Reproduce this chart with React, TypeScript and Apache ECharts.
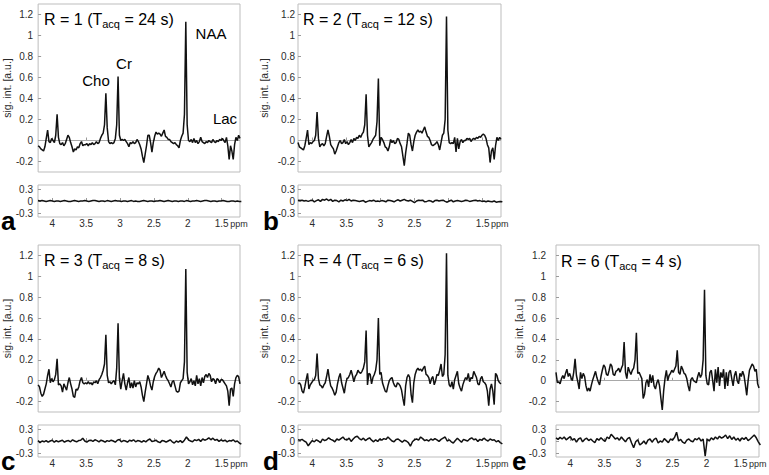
import React, { useEffect, useRef } from "react";
import * as echarts from "echarts";

// chemical-shift sampling grid of the spectra (ppm)
const PPM = [
  4.21, 4.19, 4.17, 4.15, 4.13, 4.11, 4.09, 4.07, 4.05, 4.03,
  4.01, 3.99, 3.97, 3.95, 3.93, 3.91, 3.89, 3.87, 3.85, 3.83,
  3.81, 3.79, 3.77, 3.75, 3.73, 3.71, 3.69, 3.67, 3.65, 3.63,
  3.61, 3.59, 3.57, 3.55, 3.53, 3.51, 3.49, 3.47, 3.45, 3.43,
  3.41, 3.39, 3.37, 3.35, 3.33, 3.31, 3.29, 3.27, 3.25, 3.23,
  3.21, 3.19, 3.17, 3.15, 3.13, 3.11, 3.09, 3.07, 3.05, 3.03,
  3.01, 2.99, 2.97, 2.95, 2.93, 2.91, 2.89, 2.87, 2.85, 2.83,
  2.81, 2.79, 2.77, 2.75, 2.73, 2.71, 2.69, 2.67, 2.65, 2.63,
  2.61, 2.59, 2.57, 2.55, 2.53, 2.51, 2.49, 2.47, 2.45, 2.43,
  2.41, 2.39, 2.37, 2.35, 2.33, 2.31, 2.29, 2.27, 2.25, 2.23,
  2.21, 2.19, 2.17, 2.15, 2.13, 2.11, 2.09, 2.07, 2.05, 2.03,
  2.01, 1.99, 1.97, 1.95, 1.93, 1.91, 1.89, 1.87, 1.85, 1.83,
  1.81, 1.79, 1.77, 1.75, 1.73, 1.71, 1.69, 1.67, 1.65, 1.63,
  1.61, 1.59, 1.57, 1.55, 1.53, 1.51, 1.49, 1.47, 1.45, 1.43,
  1.41, 1.39, 1.37, 1.35, 1.33, 1.31, 1.29, 1.27, 1.25, 1.23,
];

// sampling grid of the residuals (ppm)
const RES_PPM = [
  4.21, 4.18, 4.15, 4.12, 4.09, 4.06, 4.03, 4.0, 3.97, 3.94,
  3.91, 3.88, 3.85, 3.82, 3.79, 3.76, 3.73, 3.7, 3.67, 3.64,
  3.61, 3.58, 3.55, 3.52, 3.49, 3.46, 3.43, 3.4, 3.37, 3.34,
  3.31, 3.28, 3.25, 3.22, 3.19, 3.16, 3.13, 3.1, 3.07, 3.04,
  3.01, 2.98, 2.95, 2.92, 2.89, 2.86, 2.83, 2.8, 2.77, 2.74,
  2.71, 2.68, 2.65, 2.62, 2.59, 2.56, 2.53, 2.5, 2.47, 2.44,
  2.41, 2.38, 2.35, 2.32, 2.29, 2.26, 2.23, 2.2, 2.17, 2.14,
  2.11, 2.08, 2.05, 2.02, 1.99, 1.96, 1.93, 1.9, 1.87, 1.84,
  1.81, 1.78, 1.75, 1.72, 1.69, 1.66, 1.63, 1.6, 1.57, 1.54,
  1.51, 1.48, 1.45, 1.42, 1.39, 1.36, 1.33, 1.3, 1.27, 1.24,
  1.21,
];

const X_TICKS = [4, 3.5, 3, 2.5, 2, 1.5];
const Y_TICKS = [-0.2, 0, 0.2, 0.4, 0.6, 0.8, 1, 1.2];
const RES_TICKS = [-0.3, 0, 0.3];

// spectra, signal intensity [a.u.]
const SPEC_A = [
  -0.05, -0.06, -0.08, -0.09, -0.1, -0.06, 0.02, 0.1, -0.01, -0.02,
  0.02, 0.0, -0.02, 0.05, 0.25, 0.03, -0.03, -0.04, -0.02, -0.05,
  -0.03, 0.01, 0.05, 0.03, -0.02, -0.06, -0.11, -0.08, -0.09, -0.06,
  -0.07, -0.03, -0.01, -0.05, -0.04, -0.04, -0.03, -0.05, -0.03, -0.04,
  -0.02, -0.04, -0.03, -0.01, -0.03, -0.02, 0.02, 0.05, 0.07, 0.15,
  0.45, 0.12, -0.01, -0.03, -0.02, -0.03, -0.02, 0.02, 0.15, 0.61,
  0.05, 0.0, 0.01, 0.0, 0.01, -0.01, -0.03, -0.06, -0.02, -0.03,
  -0.01, -0.03, -0.02, 0.01, -0.01, -0.04, -0.08, -0.15, -0.21, -0.13,
  -0.05, 0.05, 0.05, -0.02, -0.11, -0.02, 0.04, 0.08, 0.06, 0.07,
  0.06, 0.04, 0.07, 0.1, 0.04, 0.03, 0.01, 0.01, -0.01, -0.02,
  -0.03, -0.02, -0.04, -0.05, -0.07, 0.0, 0.04, 0.07, 0.25, 1.13,
  0.15, 0.0, -0.01, 0.01, -0.02, 0.02, -0.02, 0.0, -0.03, -0.01,
  0.03, -0.01, -0.02, -0.03, -0.01, -0.02, 0.0, -0.01, -0.02, 0.01,
  -0.01, -0.02, 0.0, -0.01, 0.01, 0.0, 0.02, 0.0, -0.02, 0.03,
  -0.05, -0.18, -0.05, -0.1, -0.18, -0.04, 0.03, 0.0, 0.05, 0.02,
];
const SPEC_B = [
  -0.02, -0.06, -0.07, -0.08, -0.09, -0.05, 0.02, 0.1, -0.04, -0.02,
  -0.03, -0.01, 0.0, 0.05, 0.27, 0.02, -0.06, -0.04, -0.03, -0.05,
  -0.03, 0.04, 0.1, 0.04, -0.04, -0.06, -0.08, -0.13, -0.1, -0.06,
  -0.02, 0.0, -0.03, -0.02, 0.01, -0.03, -0.01, -0.04, -0.02, 0.01,
  -0.02, 0.02, 0.0, 0.03, 0.02, 0.05, 0.03, 0.06, 0.08, 0.15,
  0.44, 0.05, -0.06, -0.04, -0.02, 0.01, 0.03, 0.05, 0.18, 0.59,
  -0.05, 0.03, 0.01, -0.02, -0.06, -0.07, -0.1, -0.06, 0.01, -0.02,
  0.0, -0.03, -0.02, 0.02, 0.01, -0.03, -0.06, -0.15, -0.24, -0.12,
  -0.03, 0.07, 0.05, -0.04, -0.1, -0.01, 0.05, 0.08, 0.1, 0.08,
  0.09, 0.07, 0.1, 0.13, 0.08, 0.04, 0.03, 0.0, -0.04, -0.05,
  -0.04, -0.03, -0.01, -0.04, -0.09, -0.02, 0.05, 0.07, 0.2, 1.18,
  0.1, -0.02, -0.03, -0.02, -0.03, 0.03, -0.11, 0.02, -0.08, -0.01,
  0.01, -0.02, 0.0, 0.0, 0.02, 0.01, 0.02, -0.01, 0.01, 0.02,
  0.01, 0.03, 0.02, 0.04, 0.03, 0.05, 0.06, 0.05, 0.02, -0.04,
  -0.07, -0.21, -0.1, -0.07, -0.18, -0.05, 0.03, 0.0, 0.03, 0.01,
];
const SPEC_C = [
  -0.04, -0.06, -0.12, -0.15, -0.13, -0.08, -0.03, 0.05, 0.11, -0.02,
  0.02, -0.01, 0.01, 0.06, 0.21, -0.04, -0.03, -0.05, -0.11, -0.03,
  -0.06, -0.09, -0.02, 0.03, -0.03, -0.08, -0.15, -0.16, -0.08, -0.09,
  -0.06, 0.0, 0.03, -0.02, -0.03, -0.02, -0.03, -0.01, -0.03, -0.02,
  -0.04, -0.01, -0.02, 0.0, -0.03, 0.01, 0.03, 0.06, 0.1, 0.16,
  0.44, 0.05, -0.02, -0.01, -0.03, -0.01, 0.0, -0.04, 0.12, 0.55,
  0.02, -0.08, 0.0, 0.07, -0.03, -0.09, -0.02, 0.03, -0.07, -0.02,
  -0.07, 0.0, -0.06, -0.02, -0.03, -0.01, -0.06, -0.14, -0.2, -0.11,
  -0.03, 0.05, 0.01, -0.05, -0.09, -0.01, 0.04, 0.07, 0.09, 0.12,
  0.1, 0.03, 0.06, 0.09, 0.05, 0.02, 0.0, -0.03, -0.06, -0.01,
  0.0, -0.05, -0.1, -0.11, -0.1, -0.02, 0.0, 0.02, 0.18, 1.07,
  0.08, -0.03, -0.01, 0.02, -0.04, 0.0, -0.05, 0.05, -0.03, 0.02,
  -0.05, 0.03, -0.02, 0.04, 0.06, 0.03, 0.07, 0.05, -0.01, 0.02,
  0.01, -0.03, 0.02, 0.01, -0.02, 0.01, 0.01, -0.01, -0.03, -0.05,
  -0.1, -0.24, -0.08, -0.07, -0.15, -0.03, 0.03, 0.05, 0.04, -0.03,
];
const SPEC_D = [
  -0.03, -0.02, -0.04, -0.1, -0.12, -0.06, 0.01, 0.07, -0.08, -0.04,
  -0.02, 0.0, 0.01, 0.05, 0.26, 0.02, -0.04, -0.05, -0.07, -0.04,
  -0.02, 0.04, 0.11, 0.02, -0.05, -0.07, -0.1, -0.14, -0.11, -0.03,
  0.03, 0.07, -0.02, -0.07, -0.12, -0.03, 0.02, 0.03, 0.06, 0.1,
  0.05, -0.01, 0.04, 0.06, 0.1, 0.08, 0.07, 0.09, 0.12, 0.18,
  0.48, -0.04, 0.07, 0.06, -0.03, 0.03, 0.06, 0.1, 0.2, 0.6,
  0.06, 0.08, -0.02, -0.06, -0.1, -0.11, -0.05, 0.0, 0.02, 0.03,
  -0.02, -0.05, -0.06, -0.02, -0.03, -0.05, -0.09, -0.17, -0.24, -0.05,
  0.03, 0.06, 0.03, -0.13, -0.21, -0.02, 0.06, 0.1, 0.12, 0.1,
  0.11, 0.09, 0.12, 0.14, 0.06, 0.05, 0.03, -0.03, 0.02, 0.04,
  -0.04, 0.0, 0.06, 0.05, 0.1, 0.16, 0.04, 0.06, 0.25, 1.22,
  0.05, -0.04, -0.06, -0.01, -0.08, 0.01, 0.05, 0.09, -0.03, -0.07,
  -0.1, -0.04, 0.0, 0.03, 0.01, 0.07, -0.01, 0.03, 0.02, 0.09,
  0.06, 0.03, -0.03, -0.04, 0.02, 0.04, -0.01, -0.02, -0.04, -0.1,
  -0.24, -0.08, -0.03, -0.1, -0.23, 0.07, 0.05, 0.0, -0.02, -0.03,
];
const SPEC_E = [
  0.08, -0.02, -0.01, -0.03, 0.02, 0.05, 0.02, 0.07, 0.11, 0.04,
  0.07, 0.03, 0.0, 0.08, 0.21, 0.05, -0.01, -0.08, 0.08, 0.02,
  0.07, 0.04, -0.05, -0.1, -0.07, -0.1, -0.04, 0.01, 0.05, 0.09,
  0.03, -0.01, -0.04, 0.04, 0.1, 0.15, 0.13, 0.06, 0.05, 0.1,
  0.16, 0.14, 0.06, 0.05, 0.09, 0.1, 0.12, 0.08, 0.12, 0.15,
  0.37, 0.08, 0.02, 0.13, 0.09, 0.06, 0.1, 0.12, 0.2, 0.46,
  0.07, 0.08, 0.05, 0.02, -0.17, -0.13, -0.02, 0.01, -0.06, 0.06,
  -0.02, 0.05, -0.05, -0.08, -0.02, 0.01, -0.05, -0.17, -0.28, -0.1,
  0.02, 0.1, 0.0, 0.05, 0.07, 0.1, 0.08, 0.11, 0.14, 0.29,
  0.08, 0.06, 0.14, 0.11, 0.07, 0.06, 0.02, -0.05, -0.1, 0.01,
  0.03, 0.0, -0.01, -0.02, 0.04, 0.08, 0.03, 0.06, 0.2, 0.87,
  0.05, -0.03, -0.04, 0.08, 0.1, 0.0, -0.1, 0.11, -0.02, 0.13,
  -0.05, 0.08, 0.03, 0.11, -0.08, 0.08, -0.05, 0.08, 0.1, 0.02,
  -0.05, 0.05, 0.09, 0.0, -0.03, 0.07, 0.04, 0.09, 0.05, -0.04,
  -0.14, 0.0, 0.1, 0.13, 0.16, 0.14, 0.09, 0.11, -0.03, -0.07,
];

// fit residuals
const RES_A = [
  0.01, 0.0, 0.01, 0.0, -0.01, 0.0, 0.01, 0.0, -0.01, 0.0,
  0.0, -0.01, 0.0, 0.01, 0.0, -0.01, -0.01, 0.0, 0.01, 0.0,
  -0.01, 0.0, 0.0, 0.01, 0.0, -0.01, 0.0, 0.01, 0.01, 0.0,
  -0.01, 0.0, 0.0, -0.01, 0.01, 0.0, -0.01, 0.0, 0.01, 0.0,
  0.0, -0.01, 0.0, 0.0, -0.01, 0.0, 0.01, -0.01, 0.0, -0.01,
  -0.01, 0.0, 0.01, 0.0, -0.01, 0.0, 0.0, -0.01, 0.0, 0.0,
  0.01, 0.0, -0.01, 0.0, 0.01, 0.0, -0.01, 0.0, 0.0, -0.01,
  0.0, 0.0, -0.01, 0.01, 0.0, -0.01, 0.0, 0.0, 0.01, 0.0,
  -0.01, 0.0, 0.01, 0.01, 0.0, -0.01, 0.0, 0.0, -0.01, 0.0,
  0.0, 0.01, 0.0, -0.01, -0.01, 0.0, 0.0, -0.01, 0.0, -0.01,
  -0.01,
];
const RES_B = [
  0.02, 0.01, 0.02, 0.0, 0.01, -0.01, 0.01, 0.02, -0.02, 0.01,
  0.03, -0.01, 0.04, 0.02, 0.05, 0.01, 0.04, -0.01, 0.02, 0.01,
  -0.02, 0.02, 0.0, 0.03, 0.01, 0.04, 0.0, 0.02, 0.01, 0.0,
  -0.01, 0.0, 0.01, -0.03, -0.01, 0.01, 0.0, 0.02, -0.01, 0.0,
  -0.01, 0.01, 0.0, -0.02, 0.02, 0.01, 0.0, -0.02, 0.01, 0.03,
  0.0, 0.02, 0.04, 0.01, 0.0, 0.02, -0.01, -0.04, 0.0, 0.02,
  0.01, 0.02, -0.02, -0.01, 0.01, 0.0, -0.03, 0.01, 0.02, 0.0,
  0.01, 0.02, -0.01, -0.03, 0.0, 0.02, -0.02, 0.0, 0.01, 0.0,
  -0.01, 0.0, 0.02, 0.01, -0.01, 0.0, 0.01, 0.02, 0.0, 0.01,
  -0.01, 0.0, -0.02, 0.0, -0.01, -0.02, 0.0, -0.03, -0.02, -0.01,
  -0.02,
];
const RES_C = [
  0.01, -0.04, 0.0, -0.02, 0.01, -0.03, 0.0, 0.02, -0.03, 0.01,
  -0.02, 0.0, 0.02, -0.03, 0.0, 0.01, -0.02, 0.03, 0.0, -0.02,
  0.01, 0.02, 0.07, 0.0, -0.03, 0.01, 0.02, -0.01, 0.03, 0.01,
  -0.02, 0.02, 0.0, -0.03, 0.01, -0.01, 0.02, 0.0, -0.03, 0.02,
  0.04, -0.02, 0.01, 0.0, -0.03, 0.02, 0.0, 0.03, -0.02, 0.01,
  0.0, -0.03, 0.01, -0.02, 0.02, 0.05, -0.01, 0.0, 0.02, -0.02,
  -0.04, 0.01, 0.0, -0.03, 0.0, 0.03, -0.02, -0.05, 0.0, -0.03,
  0.01, -0.04, 0.02, 0.1, 0.03, 0.0, -0.02, 0.03, 0.01, 0.04,
  -0.01, 0.05, 0.02, 0.04, 0.08, 0.03, 0.07, 0.02, 0.04, -0.01,
  0.03, 0.0, 0.02, -0.02, 0.01, 0.0, 0.03, -0.02, 0.0, -0.05,
  -0.08,
];
const RES_D = [
  0.03, 0.02, 0.04, 0.0, -0.03, -0.12, -0.05, 0.01, -0.02, 0.03,
  0.0, -0.04, 0.05, 0.01, 0.03, 0.08, 0.04, 0.02, -0.02, 0.05,
  0.02, 0.06, 0.1, 0.04, 0.03, 0.07, -0.01, 0.05, 0.1, 0.12,
  0.06, 0.03, 0.07, 0.01, 0.05, 0.08, 0.02, -0.02, 0.03, -0.01,
  0.05, 0.02, 0.06, 0.04, 0.1, 0.05, 0.0, -0.02, 0.04, 0.05,
  0.01, -0.03, 0.02, 0.0, -0.04, -0.13, -0.02, 0.03, 0.05, 0.02,
  0.1, 0.06, 0.01, 0.03, 0.0, 0.05, 0.02, 0.06, 0.03, -0.01,
  0.04, 0.07, 0.1, 0.0, 0.03, -0.02, -0.05, 0.01, 0.07, 0.02,
  -0.03, 0.04, 0.02, 0.0, 0.05, 0.08, 0.03, 0.05, -0.01, 0.04,
  0.02, 0.07, 0.03, 0.0, 0.05, 0.02, 0.03, -0.02, 0.01, -0.04,
  -0.07,
];
const RES_E = [
  0.08, 0.04, 0.09, 0.05, 0.1, 0.03, 0.07, 0.11, 0.02, 0.06,
  -0.03, 0.05, 0.08, -0.02, 0.04, 0.07, 0.01, 0.05, 0.0, -0.04,
  0.06, 0.02, 0.08, 0.03, -0.01, 0.1, 0.06, 0.17, 0.11, 0.05,
  0.08, 0.02, 0.1, 0.04, -0.02, 0.06, 0.09, -0.05, -0.17, -0.02,
  0.03, -0.1, -0.06, 0.0, -0.08, 0.02, 0.05, -0.03, 0.04, 0.07,
  -0.05, 0.0, -0.03, 0.06, 0.01, -0.04, 0.05, 0.02, 0.09, 0.22,
  0.0, 0.04, -0.03, -0.06, 0.02, 0.05, 0.0, -0.02, 0.06, 0.03,
  0.08, 0.0, 0.05, -0.38, 0.05, 0.0, 0.08, 0.03, 0.1, 0.05,
  0.12, 0.07, 0.1, 0.15, 0.06, 0.13, 0.04, 0.1, 0.02, 0.07,
  0.0, 0.08, 0.04, 0.09, 0.01, 0.05, 0.1, 0.15, 0.08, -0.02,
  -0.1,
];

const R_FACTORS = ["1", "2", "3", "4", "6"];
const T_ACQ = ["24", "12", "8", "6", "4"];
const LETTERS = ["a", "b", "c", "d", "e"];
const SPECTRA = [SPEC_A, SPEC_B, SPEC_C, SPEC_D, SPEC_E];
const RESIDUALS = [RES_A, RES_B, RES_C, RES_D, RES_E];
const PEAK_NAMES = ["Cho", "Cr", "NAA", "Lac"];

const X_MIN = 1.23;
const X_MAX = 4.21;

// layout (pixels)
const LAYOUT = [
  { left: 38, width: 202, top: 4, h: 168, rTop: 185, rH: 32, yMargin: 5, nameGap: 20, titleX: 44, titleBase: 25, letterX: 1, letterBase: 230 },
  { left: 298, width: 203, top: 4, h: 168, rTop: 185, rH: 32, yMargin: 3, nameGap: 29, titleX: 303, titleBase: 25, letterX: 263, letterBase: 230 },
  { left: 38, width: 202, top: 245, h: 167, rTop: 425, rH: 32, yMargin: 5, nameGap: 20, titleX: 44, titleBase: 266, letterX: 1, letterBase: 470 },
  { left: 298, width: 203, top: 245, h: 167, rTop: 425, rH: 32, yMargin: 3, nameGap: 29, titleX: 303, titleBase: 266, letterX: 263, letterBase: 470 },
  { left: 556, width: 203, top: 245, h: 167, rTop: 425, rH: 32, yMargin: 10, nameGap: 21, titleX: 561, titleBase: 267, letterX: 512, letterBase: 470 },
];
const PEAK_POS = [
  [96, 80],
  [124, 63],
  [211, 33],
  [225, 118],
];

const FONT = "'Liberation Sans', Arial, Helvetica, sans-serif";
const BOX = "#bdbdbd";
const TICK = "#9a9a9a";
const TXT = "#2b2b2b";
const LETTER_SIZE = 26;

export default function App() {
  const ref = useRef<HTMLDivElement>(null);

  useEffect(() => {
    if (!ref.current) return;
    const chart = echarts.init(ref.current, null, { renderer: "svg" });

    const grid: any[] = [];
    const xAxis: any[] = [];
    const yAxis: any[] = [];
    const series: any[] = [];
    const graphic: any[] = [];
    const fmt = (v: number) => String(v);

    LAYOUT.forEach((L, k) => {
      const mi = 2 * k;
      const ri = 2 * k + 1;
      grid.push({ left: L.left, top: L.top, width: L.width, height: L.h, show: true, borderColor: BOX, borderWidth: 1, backgroundColor: "transparent" });
      grid.push({ left: L.left, top: L.rTop, width: L.width, height: L.rH, show: true, borderColor: BOX, borderWidth: 1, backgroundColor: "transparent" });

      const xBase = {
        type: "value",
        min: X_MIN,
        max: X_MAX,
        inverse: true,
        axisLine: { show: false },
        splitLine: { show: false },
        axisTick: { show: true, inside: true, length: 3, customValues: X_TICKS, lineStyle: { color: TICK } },
      };
      xAxis.push({ ...xBase, gridIndex: mi, axisLabel: { show: false } });
      xAxis.push({
        ...xBase,
        gridIndex: ri,
        axisLabel: { show: true, customValues: X_TICKS, margin: 1, fontSize: 10, lineHeight: 10, color: TXT, fontFamily: FONT, formatter: fmt },
      });

      yAxis.push({
        type: "value",
        gridIndex: mi,
        min: -0.3,
        max: 1.3,
        axisLine: { show: false },
        splitLine: { show: false },
        axisTick: { show: true, inside: true, length: 3, customValues: Y_TICKS, lineStyle: { color: TICK } },
        axisLabel: { show: true, customValues: Y_TICKS, margin: L.yMargin, fontSize: 10, color: TXT, fontFamily: FONT, formatter: fmt },
        name: "sig. int. [a.u.]",
        nameLocation: "middle",
        nameRotate: 90,
        nameGap: L.nameGap,
        nameTextStyle: { fontSize: 10.5, color: TXT, fontFamily: FONT },
      });
      yAxis.push({
        type: "value",
        gridIndex: ri,
        min: -0.4,
        max: 0.4,
        axisLine: { show: false },
        splitLine: { show: false },
        axisTick: { show: true, inside: true, length: 3, customValues: RES_TICKS, lineStyle: { color: TICK } },
        axisLabel: { show: true, customValues: RES_TICKS, margin: L.yMargin, fontSize: 10, color: TXT, fontFamily: FONT, formatter: fmt },
      });

      const spec = SPECTRA[k];
      const res = RESIDUALS[k];
      series.push({
        type: "line",
        xAxisIndex: mi,
        yAxisIndex: mi,
        data: PPM.map((x, i) => [x, spec[i]]),
        showSymbol: false,
        symbol: "none",
        lineStyle: { color: "#111111", width: 1.5 },
        z: 3,
        markLine: {
          silent: true,
          symbol: "none",
          label: { show: false },
          lineStyle: { color: "#a8a8a8", width: 1, type: "solid" },
          data: [{ yAxis: 0 }],
          z: 1,
        },
      });
      series.push({
        type: "line",
        xAxisIndex: ri,
        yAxisIndex: ri,
        data: RES_PPM.map((x, i) => [x, res[i]]),
        showSymbol: false,
        symbol: "none",
        lineStyle: { color: "#111111", width: 1.5 },
      });

      // title
      graphic.push({
        type: "text",
        x: L.titleX,
        y: L.titleBase - 15.6,
        silent: true,
        style: {
          text: `{m|R = ${R_FACTORS[k]} (T}{s|acq}{m| = ${T_ACQ[k]} s)}`,
          align: "left",
          verticalAlign: "top",
          textAlign: "left",
          textVerticalAlign: "top",
          rich: {
            m: { fontSize: 16, lineHeight: 20, fontFamily: FONT, fill: "#000" },
            s: { fontSize: 11, lineHeight: 11, fontFamily: FONT, fill: "#000", verticalAlign: "bottom" },
          },
        },
      });
      // panel letter
      graphic.push({
        type: "text",
        x: L.letterX,
        y: L.letterBase - 0.35 * LETTER_SIZE,
        silent: true,
        style: {
          text: LETTERS[k],
          fontSize: LETTER_SIZE,
          fontWeight: "bold",
          fontFamily: FONT,
          fill: "#000",
          align: "left",
          verticalAlign: "middle",
          textAlign: "left",
          textVerticalAlign: "middle",
        },
      });
      // ppm unit next to the 1.5 label
      const x15 = L.left + ((X_MAX - 1.5) / (X_MAX - X_MIN)) * L.width;
      graphic.push({
        type: "text",
        x: x15 + 8.5,
        y: L.rTop + L.rH + 6.5,
        silent: true,
        style: {
          text: "ppm",
          fontSize: 9,
          fontFamily: FONT,
          fill: TXT,
          align: "left",
          verticalAlign: "middle",
          textAlign: "left",
          textVerticalAlign: "middle",
        },
      });
    });

    PEAK_NAMES.forEach((n, j) => {
      graphic.push({
        type: "text",
        x: PEAK_POS[j][0],
        y: PEAK_POS[j][1],
        silent: true,
        style: {
          text: n,
          fontSize: 15,
          fontFamily: FONT,
          fill: "#000",
          align: "center",
          verticalAlign: "middle",
          textAlign: "center",
          textVerticalAlign: "middle",
        },
      });
    });

    chart.setOption({
      animation: false,
      backgroundColor: "#ffffff",
      grid,
      xAxis,
      yAxis,
      series,
      graphic,
    });

    return () => {
      chart.dispose();
    };
  }, []);

  return (
    <div
      ref={ref}
      style={{ position: "absolute", left: 0, top: 0, width: 769, height: 475 }}
    />
  );
}
